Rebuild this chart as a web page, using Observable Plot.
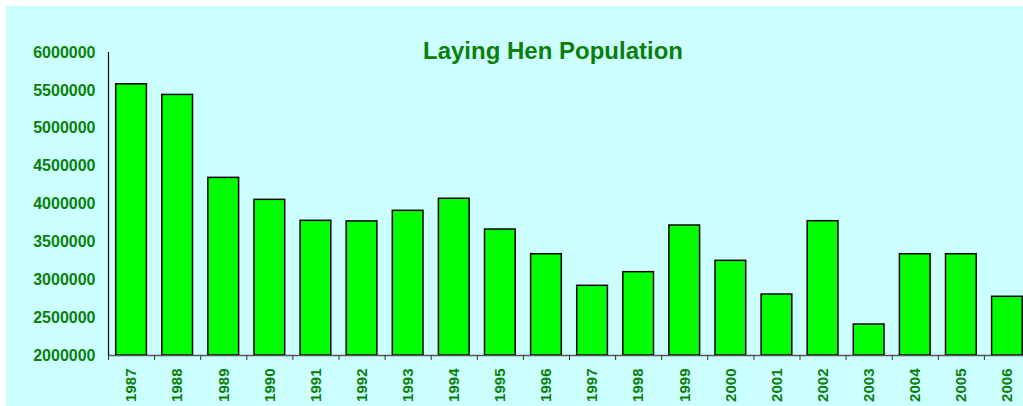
<!DOCTYPE html>
<html>
<head>
<meta charset="utf-8">
<script src="https://cdn.jsdelivr.net/npm/d3@7"></script>
<script src="https://cdn.jsdelivr.net/npm/@observablehq/plot@0.6"></script>
<style>
  html, body { margin: 0; padding: 0; background: #ffffff; overflow: hidden; }
  #wrap { position: absolute; left: 6px; top: 6px; width: 1017px; height: 400px; background: #ccffff; overflow: hidden; }
  #title { position: absolute; left: 347px; width: 400px; top: 32.7px; text-align: center;
    font: bold 24px "Liberation Sans", Arial, sans-serif; line-height: 24px; color: #0a800a; }
  svg { display: block; }
</style>
</head>
<body>
<div id="wrap"><div id="title">Laying Hen Population</div></div>
<script>
const years = [1987, 1988, 1989, 1990, 1991, 1992, 1993, 1994, 1995, 1996,
               1997, 1998, 1999, 2000, 2001, 2002, 2003, 2004, 2005, 2006];
const hens = [5580000, 5440000, 4345000, 4055000, 3778000, 3770000, 3910000, 4069000, 3663000, 3337000,
              2920000, 3100000, 3716000, 3250000, 2805000, 3773000, 2409000, 3337000, 3337000, 2775000];
const yTicks = [2000000, 2500000, 3000000, 3500000, 4000000, 4500000, 5000000, 5500000, 6000000];
const baseline = 2000000;

const data = years.map((y, i) => ({year: y, value: hens[i]}));
const green = "#0a800a";
const font = '"Liberation Sans", Arial, sans-serif';

const chart = Plot.plot({
  width: 1017,
  height: 400,
  marginLeft: 102,
  marginRight: 0,
  marginTop: 46,
  marginBottom: 51,
  style: {background: "transparent", fontFamily: font, fontWeight: "bold", color: green, overflow: "visible"},
  x: {type: "linear", domain: [years[0] - 0.5, years[years.length - 1] + 0.5], range: [102, 1024]},
  y: {domain: [2000000, 6000000]},
  marks: [
    Plot.rectY(data, {x1: d => d.year - 0.5, x2: d => d.year + 0.5, y1: baseline, y2: "value",
      insetLeft: 7.7, insetRight: 7.7, fill: "#00ff00", stroke: "#000000", strokeWidth: 1.5}),
    Plot.ruleY([baseline], {stroke: "#555555", strokeWidth: 1.5}),
    Plot.ruleX([years[0] - 0.5], {stroke: "#000000", strokeWidth: 1.2}),
    Plot.axisY({ticks: yTicks, tickFormat: d => String(d), tickSize: 5, tickPadding: 8,
      fontSize: 16, fill: green, stroke: null, label: null, color: "#000"}),
    Plot.axisX({ticks: years.map(y => y - 0.5), tickFormat: () => "", tickSize: 5, label: null, stroke: "#333"}),
    Plot.axisX({ticks: years, tickFormat: d => String(d), tickSize: 0, tickPadding: 13, tickRotate: -90,
      fontSize: 15, fill: green, label: null})
  ]
});
document.getElementById("wrap").appendChild(chart);
</script>
</body>
</html>
